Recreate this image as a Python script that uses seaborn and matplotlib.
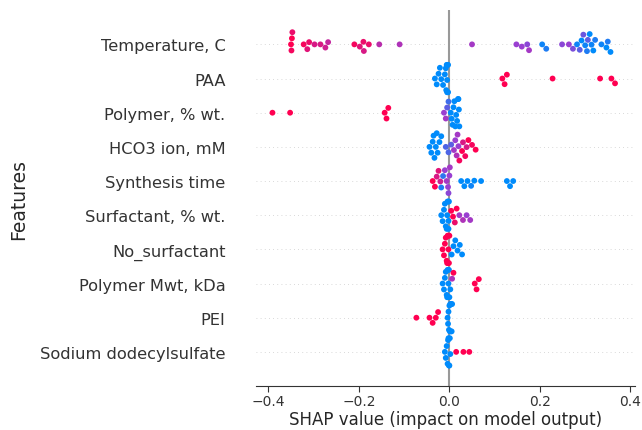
import pandas as pd
import matplotlib.pyplot as plt
import seaborn as sns
from matplotlib.colors import LinearSegmentedColormap

# feature order, top to bottom
features = ['Temperature, C', 'PAA', 'Polymer, % wt.', 'HCO3 ion, mM', 'Synthesis time',
            'Surfactant, % wt.', 'No_surfactant', 'Polymer Mwt, kDa', 'PEI', 'Sodium dodecylsulfate']

# shap values and (scaled) feature values for each row
temp_shap = [-0.350, -0.349, -0.348, -0.347, -0.322, -0.314, -0.310, -0.298,
             -0.285, -0.274, -0.268,
             -0.210, -0.198, -0.190, -0.189, -0.178, -0.155, -0.110,
             0.050, 0.148, 0.160, 0.172, 0.176, 0.205, 0.214, 0.249, 0.264, 0.273,
             0.282, 0.288, 0.292, 0.296, 0.300, 0.304, 0.306, 0.310, 0.314, 0.318, 0.322,
             0.336, 0.347, 0.350, 0.356]
temp_val = [1.0, 0.95, 1.0, 0.9, 0.95, 0.85, 0.9, 0.8,
            0.8, 0.75, 0.7,
            0.95, 0.85, 0.9, 0.8, 0.9, 0.65, 0.6,
            0.55, 0.5, 0.5, 0.45, 0.55, 0.05, 0.1, 0.45, 0.5, 0.4,
            0.05, 0.3, 0.0, 0.35, 0.05, 0.1, 0.3, 0.0, 0.05, 0.0, 0.1,
            0.05, 0.0, 0.1, 0.0]

paa_shap = [-0.032, -0.028, -0.024, -0.021, -0.018, -0.014, -0.010, -0.008, -0.007,
            -0.006, -0.005, -0.005, -0.004, -0.004, -0.003, -0.003,
            0.117, 0.122, 0.127, 0.228, 0.333, 0.358, 0.366]
paa_val = [0.0] * 16 + [1.0] * 7

polymer_shap = [-0.391, -0.352, -0.143, -0.139, -0.135,
                -0.012, -0.008, -0.005, -0.002,
                0.003, 0.005, 0.007, 0.009, 0.011, 0.013, 0.015, 0.017, 0.019, 0.020, 0.021, 0.022]
polymer_val = [1.0, 1.0, 1.0, 1.0, 1.0,
               0.5, 0.55, 0.3, 0.2,
               0.0, 0.0, 0.0, 0.0, 0.0, 0.0, 0.0, 0.0, 0.0, 0.0, 0.0, 0.0]

hco3_shap = [-0.044, -0.040, -0.037, -0.035, -0.033, -0.030, -0.028, -0.026, -0.022, -0.018,
             -0.008, -0.002, 0.004,
             0.010, 0.013, 0.016, 0.018, 0.020,
             0.022, 0.028, 0.030, 0.035, 0.038, 0.042, 0.050, 0.058]
hco3_val = [0.0, 0.0, 0.0, 0.0, 0.0, 0.0, 0.0, 0.0, 0.0, 0.0,
            0.25, 0.25, 0.3,
            0.55, 0.5, 0.6, 0.55, 0.5,
            0.95, 1.0, 0.8, 0.95, 0.8, 1.0, 0.95, 1.0]

time_shap = [-0.037, -0.032, -0.028, -0.024, -0.020, -0.018, -0.014,
             -0.010, -0.006, -0.003, -0.002, 0.000, 0.001,
             0.026, 0.033, 0.040, 0.048, 0.055, 0.070, 0.127, 0.134, 0.141]
time_val = [1.0, 1.0, 0.8, 0.85, 0.75, 0.1, 0.15,
            0.5, 0.55, 0.5, 0.45, 0.5, 0.55,
            0.0, 0.0, 0.0, 0.05, 0.0, 0.0, 0.0, 0.0, 0.0]

surf_shap = [-0.018, -0.015, -0.012, -0.010, -0.008, -0.006, -0.005, -0.004,
             -0.003, -0.002, -0.002, -0.001,
             0.004, 0.008, 0.012, 0.016, 0.022, 0.030, 0.038, 0.046]
surf_val = [0.0] * 12 + [1.0, 1.0, 0.9, 1.0, 0.55, 0.6, 0.5, 0.55]

nosurf_shap = [-0.015, -0.012, -0.010, -0.008, -0.006, -0.005, -0.004, -0.003,
               -0.002, -0.002, -0.001, 0.000,
               0.005, 0.009, 0.013, 0.018, 0.023, 0.028]
nosurf_val = [1.0] * 12 + [0.0] * 6

mwt_shap = [-0.015, -0.012, -0.010, -0.008, -0.006, -0.005, -0.004, -0.003,
            -0.002, -0.001, 0.000, 0.002,
            0.006, 0.009, 0.056, 0.060, 0.065]
mwt_val = [0.0] * 12 + [0.6, 1.0, 1.0, 1.0, 1.0]

pei_shap = [-0.073, -0.044, -0.037, -0.030, -0.025,
            -0.004, -0.003, -0.002, -0.001, 0.000, 0.001, 0.002, 0.003, 0.004, 0.005, 0.006]
pei_val = [1.0] * 5 + [0.0] * 11

sds_shap = [-0.010, -0.008, -0.006, -0.004, -0.003, -0.002, -0.001, 0.000, 0.001, 0.002,
            0.015, 0.031, 0.044]
sds_val = [0.0] * 10 + [1.0] * 3

shap_rows = [temp_shap, paa_shap, polymer_shap, hco3_shap, time_shap,
             surf_shap, nosurf_shap, mwt_shap, pei_shap, sds_shap]
val_rows = [temp_val, paa_val, polymer_val, hco3_val, time_val,
            surf_val, nosurf_val, mwt_val, pei_val, sds_val]

rows = []
for name, sv, fv in zip(features, shap_rows, val_rows):
    for s, v in zip(sv, fv):
        rows.append((name, s, v))
df = pd.DataFrame(rows, columns=['feature', 'shap', 'value'])

# shap-like red/blue colormap
red_blue = LinearSegmentedColormap.from_list('red_blue', ['#008bfb', '#9a3fd2', '#ff0051'])

sns.set_style('white')
fig = plt.figure(figsize=(6.42, 4.31), dpi=100)
ax = fig.add_axes([0.399, 0.102, 0.59, 0.872])

for i in range(len(features)):
    ax.axhline(i, color='#cccccc', lw=0.6, dashes=(1, 4), zorder=-1)
ax.axvline(0, color='#999999', lw=1.5, zorder=-1)

sns.swarmplot(data=df, x='shap', y='feature', hue='value', order=features,
              palette=red_blue, hue_norm=(0, 1), size=4.2, legend=False,
              linewidth=0, ax=ax, warn_thresh=1)

ax.set_ylim(len(features), -1)
ax.set_xlim(-0.427, 0.41)
ax.set_xticks([-0.4, -0.2, 0.0, 0.2, 0.4])
ax.set_xticklabels(['\u22120.4', '\u22120.2', '0.0', '0.2', '0.4'])
for sp in ['left', 'right', 'top']:
    ax.spines[sp].set_visible(False)
ax.spines['bottom'].set_color('#333333')
ax.tick_params(axis='x', labelsize=10, colors='#333333', length=4, pad=2, bottom=True)
ax.tick_params(axis='y', labelsize=11.7, colors='#333333', length=0, pad=22)
ax.set_xlabel('SHAP value (impact on model output)', fontsize=12, labelpad=1)
ax.set_ylabel('Features', fontsize=13.5)
ax.yaxis.set_label_coords(-0.602, 0.5)

fig.savefig('out.png', dpi=100)
